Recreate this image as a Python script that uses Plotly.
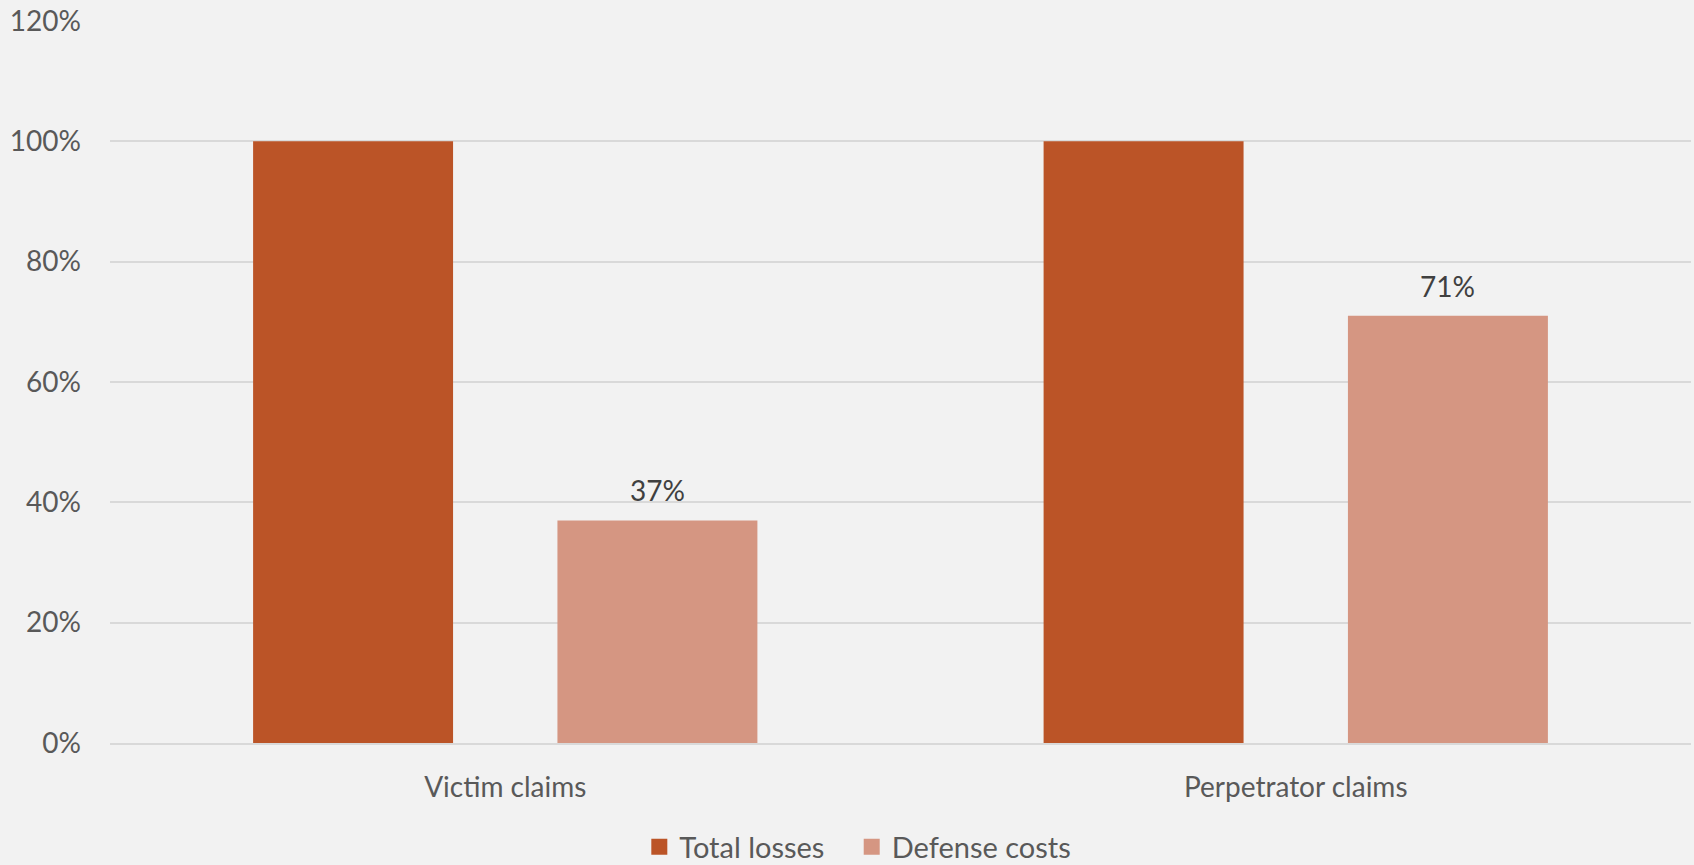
import plotly.graph_objects as go

categories = ["Victim claims", "Perpetrator claims"]
total_losses = [1.00, 1.00]
defense_costs = [0.37, 0.71]
y_ticks = [0, 0.2, 0.4, 0.6, 0.8, 1.0, 1.2]
y_tick_labels = ["0%", "20%", "40%", "60%", "80%", "100%", "120%"]
series_names = ["Total losses", "Defense costs"]

FONT = "Lato"
FS = 28
C1 = "#BB5427"
C2 = "#D59682"
BARGAP = 0.23
GROUPGAP = 0.343

fig = go.Figure()
fig.add_trace(go.Bar(
    x=categories, y=total_losses, name=series_names[0],
    marker=dict(color=C1, line=dict(width=0)), showlegend=False,
))
fig.add_trace(go.Bar(
    x=categories, y=defense_costs, name=series_names[1],
    marker=dict(color=C2, line=dict(width=0)), showlegend=False,
))
# legend-only entries with square markers
fig.add_trace(go.Scatter(x=[None], y=[None], mode="markers",
                         name=series_names[0] + "\u00a0\u00a0\u00a0",
                         marker=dict(symbol="square", size=18, color=C1)))
fig.add_trace(go.Scatter(x=[None], y=[None], mode="markers", name=series_names[1],
                         marker=dict(symbol="square", size=18, color=C2)))

# data labels above the defense-cost bars (second slot of each group)
slot = (1 - BARGAP) / 2
for i, v in enumerate(defense_costs):
    fig.add_annotation(x=i + slot / 2, y=v, xref="x", yref="y",
                       text=f"{round(v * 100)}%", showarrow=False,
                       yanchor="middle", yshift=30,
                       font=dict(family=FONT, size=FS, color="#404040"))

fig.update_layout(
    width=1694, height=865,
    margin=dict(l=110, r=3, t=21, b=122, autoexpand=False),
    paper_bgcolor="#F2F2F2", plot_bgcolor="#F2F2F2",
    barmode="group", bargap=BARGAP, bargroupgap=GROUPGAP,
    font=dict(family=FONT, size=FS, color="#595959"),
    legend=dict(orientation="h", x=0.473, xanchor="center", y=-0.144, yanchor="middle",
                font=dict(family=FONT, size=FS + 1, color="#595959"),
                bgcolor="rgba(0,0,0,0)"),
    showlegend=True,
)
fig.update_yaxes(
    range=[0, 1.2], tickvals=y_ticks, ticktext=y_tick_labels,
    showgrid=True, gridcolor="#D9D9D9", gridwidth=2,
    zeroline=False, showline=False, ticks="", ticklabelstandoff=28,
    tickfont=dict(family=FONT, size=FS, color="#595959"),
)
fig.update_xaxes(
    showline=True, linecolor="#D9D9D9", linewidth=2, ticks="",
    ticklabelstandoff=18,
    tickfont=dict(family=FONT, size=FS, color="#595959"),
)

fig.write_html("out.html", config={"displayModeBar": False},
               post_script="document.body.style.margin='0';document.body.style.overflow='hidden';")
